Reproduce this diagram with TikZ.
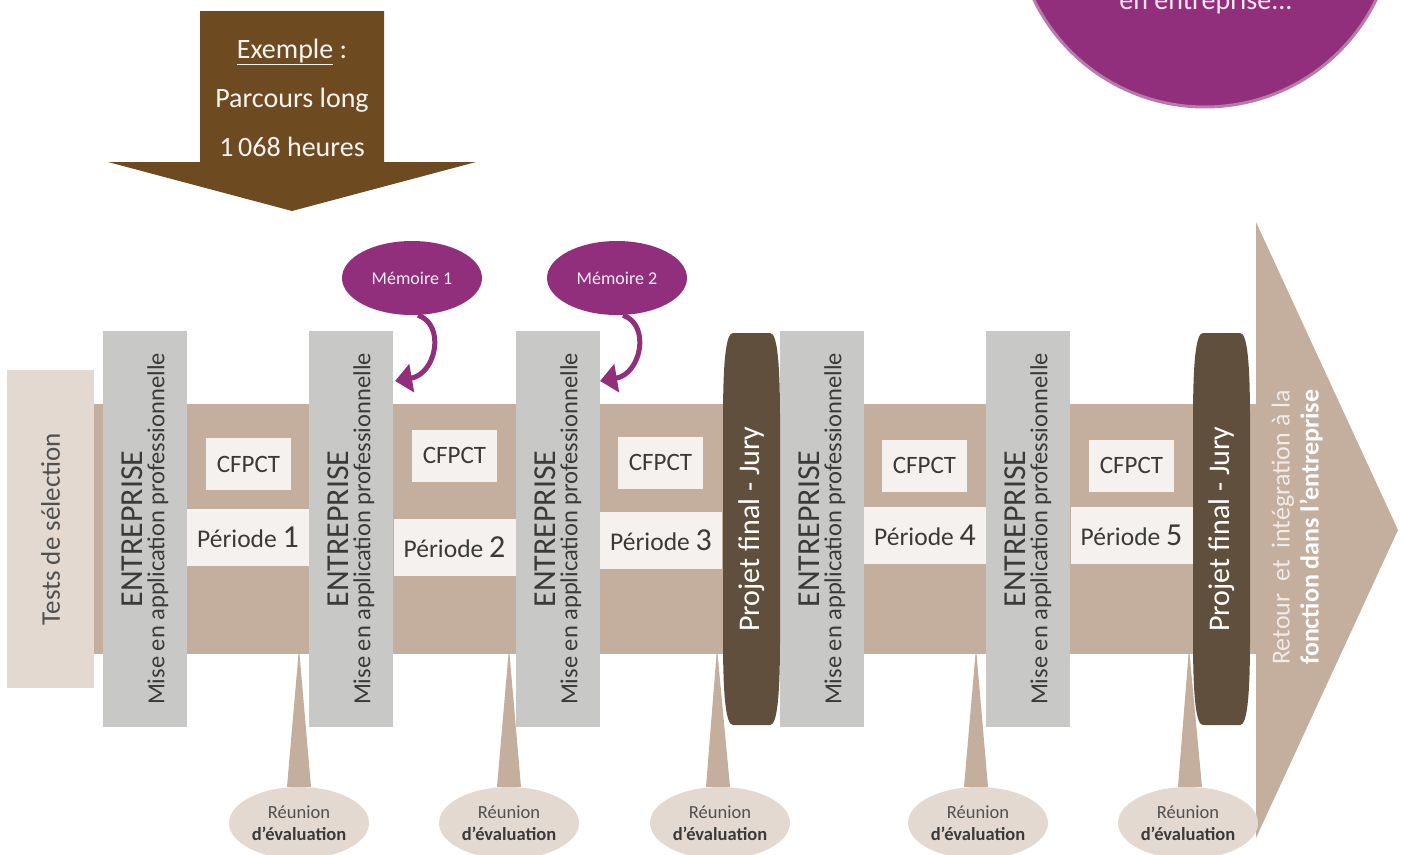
\documentclass[tikz,border=0pt]{standalone}
\usepackage{fontspec}
\setmainfont{Carlito}
\usetikzlibrary{arrows.meta, shapes.geometric}

\definecolor{bandtan}{HTML}{C4AE9E}
\definecolor{testbeige}{HTML}{E3D9D0}
\definecolor{entgrey}{HTML}{C8C8C6}
\definecolor{lightbox}{HTML}{F4F1EE}
\definecolor{projbrown}{HTML}{614F3D}
\definecolor{mempurple}{HTML}{922F7D}
\definecolor{circleedge}{HTML}{B77AAB}
\definecolor{arrowbrown}{HTML}{6E4A20}
\definecolor{textdark}{HTML}{3A3A3A}
\definecolor{textgrey}{HTML}{505050}

\begin{document}
\begin{tikzpicture}[x=1pt, y=-1pt,
    every node/.style={inner sep=0pt},
    entbox/.style={fill=entgrey, rotate=90, minimum width=396pt, minimum height=84pt, align=center, text=textdark, font=\fontsize{24.5}{22}\selectfont},
    cfpct/.style={fill=lightbox, minimum width=85pt, minimum height=52pt, text=textdark, font=\fontsize{25}{25}\selectfont},
    periode/.style={fill=lightbox, minimum width=122pt, minimum height=57pt, text=textdark, font=\fontsize{25.5}{25}\selectfont},
    projtext/.style={rotate=90, text=white, font=\fontsize{30}{30}\selectfont},
    memoire/.style={ellipse, fill=mempurple, minimum width=140pt, minimum height=74pt, text=white!92!mempurple, font=\fontsize{18}{18}\selectfont},
    memarrow/.style={draw=mempurple, line width=5pt, -{Triangle[length=17pt, width=28pt]}},
    reunion/.style={ellipse, fill=testbeige, minimum width=140pt, minimum height=72pt, align=center, text=textgrey, font=\fontsize{18.5}{22}\selectfont},
    toptext/.style={anchor=base, text=white!94!arrowbrown, font=\fontsize{28}{28}\selectfont}
]
\useasboundingbox (0,0) rectangle (1405,854);
\clip (0,0) rectangle (1405,854);

% Top right circle (cut by the page)
\node[circle, fill=mempurple, draw=circleedge, line width=3pt, minimum size=380pt] (enjeu) at (1205,-83) {};
\node[anchor=base, text=white!88!mempurple, font=\fontsize{28}{28}\selectfont] (enjeutxt) at (1206,9) {en entreprise...};

% Main band and arrow head
\fill[bandtan] (94,404) rectangle (1257,654);
\fill[bandtan] (1256,222) -- (1398,530) -- (1256,838) -- cycle;

% Tests de selection
\node[fill=testbeige, rotate=90, minimum width=318pt, minimum height=87pt, text=textgrey, font=\fontsize{27}{27}\selectfont] (tests) at (50.5,529) {Tests de sélection};

% Reunions d'evaluation with their pointers
\node[reunion] (r1) at (299,823) {Réunion\\\textcolor{textdark}{\textbf{d’évaluation}}};
\node[reunion] (r2) at (509,823) {Réunion\\\textcolor{textdark}{\textbf{d’évaluation}}};
\node[reunion] (r3) at (720,823) {Réunion\\\textcolor{textdark}{\textbf{d’évaluation}}};
\node[reunion] (r4) at (978,823) {Réunion\\\textcolor{textdark}{\textbf{d’évaluation}}};
\node[reunion] (r5) at (1188,823) {Réunion\\\textcolor{textdark}{\textbf{d’évaluation}}};
\coordinate (t1) at (299,648);
\coordinate (t2) at (509,648);
\coordinate (t3) at (717,648);
\coordinate (t4) at (976,648);
\coordinate (t5) at (1189,648);
\fill[bandtan] (t1) -- ([xshift=12pt]r1.north) -- ([xshift=-12pt]r1.north) -- cycle;
\fill[bandtan] (t2) -- ([xshift=12pt]r2.north) -- ([xshift=-12pt]r2.north) -- cycle;
\fill[bandtan] (t3) -- ([xshift=10pt]r3.north) -- ([xshift=-14pt]r3.north) -- cycle;
\fill[bandtan] (t4) -- ([xshift=10pt]r4.north) -- ([xshift=-14pt]r4.north) -- cycle;
\fill[bandtan] (t5) -- ([xshift=14pt]r5.north) -- ([xshift=-10pt]r5.north) -- cycle;

% Entreprise blocks
\node[entbox] (e1) at (145,529) {{\fontsize{32}{22}\selectfont ENTREPRISE}\\Mise en application professionnelle};
\node[entbox] (e2) at (351,529) {{\fontsize{32}{22}\selectfont ENTREPRISE}\\Mise en application professionnelle};
\node[entbox] (e3) at (558,529) {{\fontsize{32}{22}\selectfont ENTREPRISE}\\Mise en application professionnelle};
\node[entbox] (e4) at (822,529) {{\fontsize{32}{22}\selectfont ENTREPRISE}\\Mise en application professionnelle};
\node[entbox] (e5) at (1028,529) {{\fontsize{32}{22}\selectfont ENTREPRISE}\\Mise en application professionnelle};

% CFPCT and periodes
\node[cfpct] (c1) at (248.5,464) {CFPCT};
\node[cfpct] (c2) at (454.5,455.5) {CFPCT};
\node[cfpct] (c3) at (660.5,462.5) {CFPCT};
\node[cfpct] (c4) at (924.5,465.5) {CFPCT};
\node[cfpct] (c5) at (1131.5,465.5) {CFPCT};
\node[periode] (p1) at (248,537.5) {Période {\fontsize{32}{25}\selectfont 1}};
\node[periode] (p2) at (454.5,547) {Période {\fontsize{32}{25}\selectfont 2}};
\node[periode] (p3) at (661,540.5) {Période {\fontsize{32}{25}\selectfont 3}};
\node[periode] (p4) at (925,535.5) {Période {\fontsize{32}{25}\selectfont 4}};
\node[periode] (p5) at (1131.5,535.5) {Période {\fontsize{32}{25}\selectfont 5}};

% Projet final - Jury
\fill[projbrown] (723,420) .. controls (723,360) and (726,333) .. (733,333) -- (770,333) .. controls (777,333) and (780,360) .. (780,420) -- (780,638) .. controls (780,698) and (777,725) .. (770,725) -- (733,725) .. controls (726,725) and (723,698) .. (723,638) -- cycle;
\fill[projbrown] (1193,420) .. controls (1193,360) and (1196,333) .. (1203,333) -- (1240,333) .. controls (1247,333) and (1250,360) .. (1250,420) -- (1250,638) .. controls (1250,698) and (1247,725) .. (1240,725) -- (1203,725) .. controls (1196,725) and (1193,698) .. (1193,638) -- cycle;
\node[projtext] (j1) at (752,529) {Projet final - Jury};
\node[projtext] (j2) at (1222,529) {Projet final - Jury};

% Retour text in the arrow head
\node[rotate=90, anchor=west, align=left, font=\fontsize{26}{29}\selectfont] (retour) at (1297,665) {\textcolor{white!75!bandtan}{Retour\ \ et\ \ intégration\ à\ la}\\\textcolor{white}{\textbf{fonction dans l’entreprise}}};

% Memoires
\node[memoire] (m1) at (412,278) {Mémoire 1};
\node[memoire] (m2) at (617,278) {Mémoire 2};
\coordinate (m1tip) at (395,381);
\coordinate (m2tip) at (600,381);
\draw[memarrow] ([xshift=6pt]m1.south) .. controls (446,325) and (436,374) .. (m1tip);
\draw[memarrow] ([xshift=6pt]m2.south) .. controls (651,325) and (641,374) .. (m2tip);

% Top arrow: Exemple
\fill[arrowbrown] (200,11) -- (384,11) -- (384,162) -- (476,162) -- (292,211) -- (108,162) -- (200,162) -- cycle;
\node[toptext] (ex) at (292,58) {\underline{Exemple} :};
\node[toptext] (parc) at (292,107) {Parcours long};
\node[toptext] (heures) at (292,156) {1\,068 heures};
\end{tikzpicture}
\end{document}
